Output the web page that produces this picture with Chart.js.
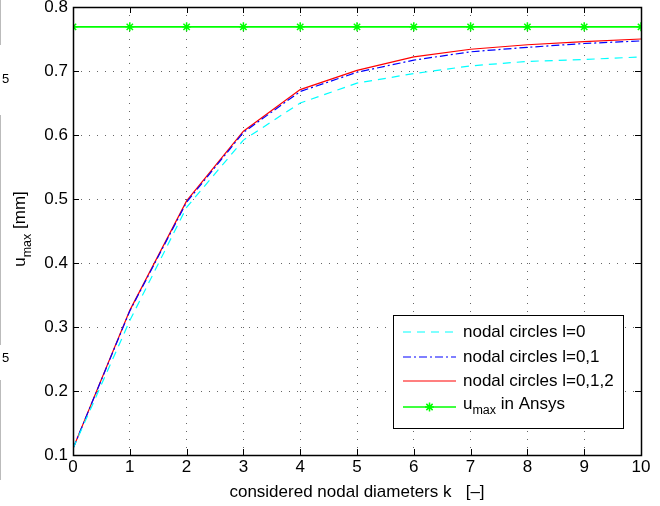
<!DOCTYPE html>
<html><head><meta charset="utf-8">
<script src="https://cdn.jsdelivr.net/npm/chart.js@4/dist/chart.umd.min.js"></script>
<style>html,body{margin:0;padding:0;background:#fff}#wrap{width:660px;height:506px;position:relative}</style>
</head><body><div id="wrap"><canvas id="c" width="660" height="506"></canvas></div>
<script>
const kValues = [0,1,2,3,4,5,6,7,8,9,10];
const circlesL0   = [0.110,0.310,0.487,0.592,0.650,0.681,0.696,0.708,0.715,0.718,0.722];
const circlesL01  = [0.110,0.325,0.495,0.604,0.668,0.698,0.717,0.730,0.737,0.743,0.747];
const circlesL012 = [0.110,0.326,0.497,0.606,0.671,0.701,0.722,0.734,0.741,0.746,0.750];
const ansysUmax   = [0.769,0.769,0.769,0.769,0.769,0.769,0.769,0.769,0.769,0.769,0.769];
const xTickValues = [0,1,2,3,4,5,6,7,8,9,10];
const yTickValues = [0.1,0.2,0.3,0.4,0.5,0.6,0.7,0.8];
const seriesNames = ['nodal circles l=0','nodal circles l=0,1','nodal circles l=0,1,2','in Ansys'];
const xTitle = 'considered nodal diameters k   [\u2013]';

const FONT = "'Liberation Sans', Arial, Helvetica, sans-serif";
const CYAN='#00ffff', BLUE='#0000ff', RED='#ff0000', GREEN='#00ff00';

const toXY = arr => arr.map((v,i)=>({x:kValues[i], y:v}));

const framePlugin = {
  id:'frame',
  afterDraw(chart){
    const ctx = chart.ctx, a = chart.chartArea;
    const xs = chart.scales.x, ys = chart.scales.y;
    ctx.save();
    // inward ticks
    ctx.strokeStyle='#000'; ctx.lineWidth=1;
    ctx.beginPath();
    xTickValues.forEach(v=>{
      const px = Math.round(xs.getPixelForValue(v))+0.5;
      ctx.moveTo(px,a.bottom); ctx.lineTo(px,a.bottom-6);
      ctx.moveTo(px,a.top); ctx.lineTo(px,a.top+6);
    });
    yTickValues.forEach(v=>{
      const py = Math.round(ys.getPixelForValue(v))+0.5;
      ctx.moveTo(a.left,py); ctx.lineTo(a.left+6,py);
      ctx.moveTo(a.right,py); ctx.lineTo(a.right-6,py);
    });
    ctx.stroke();
    // box
    ctx.lineWidth=1.5;
    ctx.strokeRect(Math.round(a.left)+0.5, Math.round(a.top)+0.5, Math.round(a.right-a.left), Math.round(a.bottom-a.top));

    // y title with subscript
    ctx.fillStyle='#000';
    ctx.translate(25, 229);
    ctx.rotate(-Math.PI/2);
    ctx.textBaseline='alphabetic';
    const mainF = '17px '+FONT, subF = '12.5px '+FONT;
    ctx.font=mainF; const wU = ctx.measureText('u').width;
    ctx.font=subF; const wM = ctx.measureText('max').width;
    ctx.font=mainF; const wR = ctx.measureText(' [mm]').width;
    let x0 = -(wU+wM+wR)/2;
    ctx.font=mainF; ctx.fillText('u', x0, 0);
    ctx.font=subF; ctx.fillText('max', x0+wU, 6);
    ctx.font=mainF; ctx.fillText(' [mm]', x0+wU+wM, 0);
    ctx.restore();

    // legend
    ctx.save();
    const lx=393, ly=315, lw=230, lh=113;
    ctx.fillStyle='#fff'; ctx.fillRect(lx,ly,lw,lh);
    ctx.strokeStyle='#000'; ctx.lineWidth=1;
    ctx.strokeRect(lx+0.5,ly+0.5,lw,lh);
    const rows=[332,357,381,407];
    const styles=[{c:CYAN,d:[8,6]},{c:BLUE,d:[8,3,2,3]},{c:RED,d:[]},{c:GREEN,d:[]}];
    rows.forEach((ry,i)=>{
      ctx.strokeStyle=styles[i].c; ctx.lineWidth= i===3?1.6:1.2;
      ctx.setLineDash(styles[i].d);
      ctx.beginPath(); ctx.moveTo(403,ry); ctx.lineTo(456,ry); ctx.stroke();
      ctx.setLineDash([]);
    });
    // star marker in legend
    ctx.strokeStyle=GREEN; ctx.lineWidth=1.5;
    const cx=429.5, cy=407, r=4.5;
    ctx.beginPath();
    ctx.moveTo(cx-r,cy); ctx.lineTo(cx+r,cy);
    ctx.moveTo(cx,cy-r); ctx.lineTo(cx,cy+r);
    ctx.moveTo(cx-r*0.7,cy-r*0.7); ctx.lineTo(cx+r*0.7,cy+r*0.7);
    ctx.moveTo(cx-r*0.7,cy+r*0.7); ctx.lineTo(cx+r*0.7,cy-r*0.7);
    ctx.stroke();
    ctx.fillStyle='#000'; ctx.textBaseline='middle';
    ctx.font='17px '+FONT;
    for(let i=0;i<3;i++) ctx.fillText(seriesNames[i], 463, rows[i]);
    ctx.fillText('u', 463, rows[3]-3);
    const wu = ctx.measureText('u').width;
    ctx.font='12.5px '+FONT; ctx.fillText('max', 463+wu, rows[3]+4);
    const wm = ctx.measureText('max').width;
    ctx.font='17px '+FONT; ctx.fillText(' '+seriesNames[3], 463+wu+wm, rows[3]-3);

    // fragments of neighbouring figure at left edge
    ctx.font='13px '+FONT; ctx.textBaseline='alphabetic';
    ctx.fillText('5', 2, 83);
    ctx.fillText('5', 2, 362);
    ctx.strokeStyle='#bbb'; ctx.lineWidth=1;
    ctx.beginPath(); ctx.moveTo(0.5,0); ctx.lineTo(0.5,45); ctx.moveTo(0.5,115); ctx.lineTo(0.5,345); ctx.moveTo(0.5,380); ctx.lineTo(0.5,480); ctx.stroke();
    ctx.restore();
  }
};

new Chart(document.getElementById('c'), {
  type:'line',
  data:{
    datasets:[
      {label:seriesNames[0], data:toXY(circlesL0), borderColor:CYAN, borderWidth:1.2, borderDash:[8,6], pointRadius:0, fill:false, tension:0},
      {label:seriesNames[1], data:toXY(circlesL01), borderColor:BLUE, borderWidth:1.2, borderDash:[8,3,2,3], pointRadius:0, fill:false, tension:0},
      {label:seriesNames[2], data:toXY(circlesL012), borderColor:RED, borderWidth:1.2, pointRadius:0, fill:false, tension:0},
      {label:seriesNames[3], data:toXY(ansysUmax), borderColor:GREEN, backgroundColor:GREEN, borderWidth:1.6, pointStyle:'star', pointRadius:4.5, pointBorderWidth:1.5, pointBorderColor:GREEN, fill:false, tension:0}
    ]
  },
  options:{
    responsive:false, animation:false, devicePixelRatio:1,
    layout:{padding:{left:0,right:19,top:7,bottom:0}},
    plugins:{legend:{display:false}, tooltip:{enabled:false}},
    scales:{
      x:{type:'linear', min:0, max:10,
        afterBuildTicks(s){ s.ticks = xTickValues.map(v=>({value:v})); },
        afterFit(s){ s.height = 51; s.paddingLeft = 0; s.paddingRight = 0; },
        grid:{color:'#666', lineWidth:1, drawTicks:false},
        border:{display:false, dash:[1,7]},
        ticks:{color:'#000', font:{family:FONT,size:17}, padding:2, maxRotation:0, callback:v=>String(v)},
        title:{display:true, text:xTitle, color:'#000', font:{family:FONT,size:17}, padding:{top:0,bottom:3}}
      },
      y:{type:'linear', min:0.1, max:0.8,
        afterBuildTicks(s){ s.ticks = yTickValues.map(v=>({value:v})); },
        afterFit(s){ s.width = 73; s.paddingTop = 0; s.paddingBottom = 0; },
        grid:{color:'#666', lineWidth:1, drawTicks:false},
        border:{display:false, dash:[1,7]},
        ticks:{color:'#000', font:{family:FONT,size:17}, padding:5, callback:v=>v.toFixed(1)}
      }
    }
  },
  plugins:[framePlugin]
});
</script></body></html>
